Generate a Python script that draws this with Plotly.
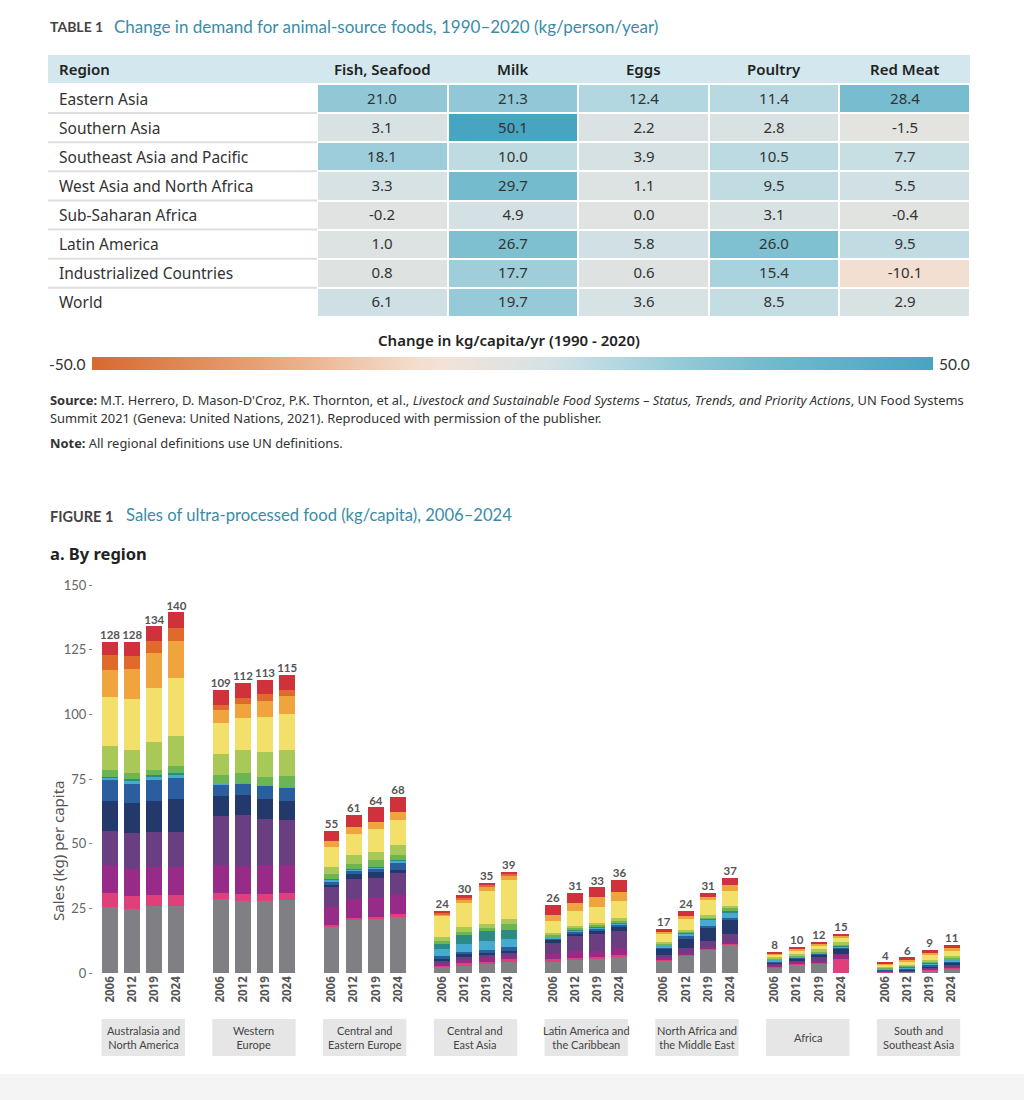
import plotly.graph_objects as go

W, H = 1024, 1100
def px(x): return x / W
def py(y): return 1 - y / H

# ---------------- TABLE DATA ----------------
table_regions = ["Eastern Asia", "Southern Asia", "Southeast Asia and Pacific",
                 "West Asia and North Africa", "Sub-Saharan Africa", "Latin America",
                 "Industrialized Countries", "World"]
table_columns = ["Fish, Seafood", "Milk", "Eggs", "Poultry", "Red Meat"]
fish = [21.0, 3.1, 18.1, 3.3, -0.2, 1.0, 0.8, 6.1]
milk = [21.3, 50.1, 10.0, 29.7, 4.9, 26.7, 17.7, 19.7]
eggs = [12.4, 2.2, 3.9, 1.1, 0.0, 5.8, 0.6, 3.6]
poultry = [11.4, 2.8, 10.5, 9.5, 3.1, 26.0, 15.4, 8.5]
red_meat = [28.4, -1.5, 7.7, 5.5, -0.4, 9.5, -10.1, 2.9]

# ---------------- FIGURE DATA ----------------
fig_regions = ["Australasia and<br>North America", "Western<br>Europe", "Central and<br>Eastern Europe",
               "Central and<br>East Asia", "Latin America and<br>the Caribbean",
               "North Africa and<br>the Middle East", "Africa", "South and<br>Southeast Asia"]
years = ["2006", "2012", "2019", "2024"]
totals = [128, 128, 134, 140, 109, 112, 113, 115, 55, 61, 64, 68, 24, 30, 35, 39,
          26, 31, 33, 36, 17, 24, 31, 37, 8, 10, 12, 15, 4, 6, 9, 11]

seg_gray = [25.5, 24.7, 25.8, 25.9, 28.6, 28.0, 27.9, 28.4, 17.8, 20.5, 20.8, 21.5, 2.4, 3.0, 3.6, 4.4,
            4.4, 5.2, 5.5, 6.0, 4.7, 6.7, 9.2, 11.0, 2.2, 3.4, 3.7, 0.0, 0.3, 0.4, 1.1, 1.7]
seg_pink = [5.3, 4.9, 4.5, 4.2, 2.3, 2.6, 2.6, 2.6, 0.9, 0.9, 0.9, 1.3, 0.4, 0.7, 0.6, 1.0,
            0.9, 0.6, 0.7, 0.8, 0.4, 0.4, 0.4, 0.5, 0.3, 0.4, 0.4, 5.4, 0.1, 0.1, 0.3, 0.4]
seg_magenta = [11.0, 10.7, 10.7, 10.9, 10.7, 10.9, 11.1, 10.7, 6.7, 7.2, 7.5, 7.7, 1.3, 1.6, 1.6, 1.3,
               2.2, 2.6, 2.4, 2.8, 0.6, 0.5, 0.5, 0.5, 0.5, 0.5, 0.6, 1.0, 0.1, 0.3, 0.4, 0.6]
seg_purple = [13.2, 13.7, 13.4, 13.5, 19.2, 19.5, 17.9, 17.3, 7.9, 7.9, 7.5, 8.1, 0.6, 0.7, 1.0, 1.2,
              4.4, 5.8, 6.3, 6.5, 1.3, 2.0, 2.4, 3.1, 0.5, 0.6, 1.3, 0.9, 0.3, 0.3, 0.4, 0.6]
seg_navy = [11.6, 11.6, 12.2, 12.8, 7.5, 7.7, 7.7, 7.5, 0.9, 1.9, 2.2, 1.3, 0.9, 1.3, 0.9, 0.8,
            0.7, 0.9, 1.3, 1.5, 2.5, 3.7, 4.8, 5.2, 0.7, 0.6, 1.0, 1.9, 0.3, 0.4, 0.5, 0.6]
seg_blue = [8.0, 7.6, 8.1, 8.2, 4.5, 4.5, 5.1, 5.4, 1.3, 1.2, 1.5, 2.8, 1.0, 0.8, 1.3, 1.3,
            0.9, 1.0, 0.9, 1.0, 0.4, 0.9, 1.0, 1.0, 0.4, 0.4, 0.5, 0.8, 0.3, 0.4, 0.5, 0.6]
seg_cyan = [1.0, 1.4, 1.4, 1.3, 0.2, 0.2, 0.2, 0.2, 0.5, 0.3, 0.3, 0.6, 2.6, 3.3, 3.2, 3.3,
            0.5, 0.3, 0.4, 0.5, 0.6, 1.0, 2.2, 2.2, 0.5, 0.4, 0.4, 0.4, 0.3, 0.3, 0.6, 0.7]
seg_teal = [0.3, 0.3, 0.3, 0.5, 0.0, 0.0, 0.0, 0.0, 0.2, 0.2, 0.2, 0.2, 2.2, 3.3, 3.9, 3.5,
            0.2, 0.3, 0.3, 0.3, 0.3, 0.3, 0.4, 0.4, 0.2, 0.2, 0.2, 0.2, 0.1, 0.2, 0.2, 0.2]
seg_green = [2.6, 2.3, 2.2, 2.7, 3.6, 3.8, 3.3, 3.9, 2.0, 2.2, 2.6, 2.2, 1.0, 1.3, 1.3, 2.0,
             0.7, 0.6, 0.7, 0.8, 0.6, 0.4, 0.7, 1.3, 0.3, 0.4, 0.4, 0.6, 0.3, 0.4, 0.5, 0.6]
seg_lightgreen = [9.1, 9.2, 10.7, 11.8, 8.2, 9.0, 9.7, 10.3, 2.9, 3.2, 3.2, 3.6, 1.6, 1.6, 1.6, 2.0,
                  0.7, 1.0, 0.9, 1.0, 0.6, 0.7, 0.7, 0.6, 0.4, 0.5, 0.6, 0.6, 0.3, 0.4, 0.5, 0.6]
seg_yellow = [19.1, 19.6, 20.9, 22.2, 12.0, 12.4, 13.4, 13.7, 7.6, 8.3, 9.1, 9.9, 7.9, 9.5, 12.7, 15.0,
              4.4, 5.7, 6.3, 6.5, 2.9, 4.3, 5.9, 5.8, 1.1, 1.4, 1.5, 1.8, 0.8, 1.3, 2.0, 2.0]
seg_lightorange = [10.6, 11.6, 13.5, 14.4, 4.8, 5.5, 6.2, 7.0, 2.4, 2.6, 2.6, 3.0, 0.9, 1.3, 1.7, 1.9,
                   2.6, 3.0, 3.5, 3.8, 0.9, 1.3, 1.3, 2.3, 0.5, 0.6, 0.6, 0.8, 0.4, 0.6, 0.7, 0.9]
seg_darkorange = [5.6, 5.1, 4.5, 4.8, 2.1, 2.3, 2.6, 2.3, 0.0, 0.0, 0.0, 0.0, 0.6, 0.7, 0.9, 0.7,
                  0.0, 0.0, 0.0, 0.0, 0.0, 0.0, 0.0, 0.0, 0.0, 0.0, 0.0, 0.0, 0.0, 0.0, 0.0, 0.0]
seg_red = [5.2, 5.4, 5.8, 6.2, 5.7, 5.8, 5.5, 5.8, 3.9, 4.7, 5.6, 5.8, 0.6, 0.9, 0.6, 0.6,
           3.6, 3.9, 3.9, 4.5, 1.3, 1.7, 1.6, 2.9, 0.4, 0.6, 0.8, 0.6, 0.4, 0.9, 1.3, 1.5]

segments = [
    ("Group 1", seg_gray, "#808084"),
    ("Group 2", seg_pink, "#df407b"),
    ("Group 3", seg_magenta, "#992b88"),
    ("Group 4", seg_purple, "#693f81"),
    ("Group 5", seg_navy, "#24396b"),
    ("Group 6", seg_blue, "#2a5e9e"),
    ("Group 7", seg_cyan, "#45acd0"),
    ("Group 8", seg_teal, "#2c8b84"),
    ("Group 9", seg_green, "#6bb552"),
    ("Group 10", seg_lightgreen, "#a8c858"),
    ("Group 11", seg_yellow, "#f3e06b"),
    ("Group 12", seg_lightorange, "#f0a43d"),
    ("Group 13", seg_darkorange, "#df6a2c"),
    ("Group 14", seg_red, "#cf323a"),
]

SANS = "Noto Sans, Open Sans, sans-serif"
NARROW = "Lato, Roboto, sans-serif"
TEAL = "#3a8ca6"

fig = go.Figure()

# ---------------- TABLE (heatmap) ----------------
z = [[fish[i], milk[i], eggs[i], poultry[i], red_meat[i]] for i in range(len(table_regions))]
txt = [["%.1f" % v for v in row] for row in z]
cscale = [[0.0, "#d8692f"], [0.2, "#e7a176"], [0.38, "#f4dccb"], [0.42, "#f2e2d7"],
          [0.5, "#e0e3e1"], [0.55, "#d3e1e5"], [0.62, "#b5d8e1"], [0.72, "#8ec6d5"],
          [0.8, "#72bbcd"], [1.0, "#47a5c1"]]
fig.add_trace(go.Heatmap(
    z=z, x=list(range(5)), y=list(range(len(table_regions))), text=txt,
    texttemplate="%{text}", textfont=dict(family=SANS, size=15, color="#333333"),
    colorscale=cscale, zmin=-50, zmax=50, xgap=2, ygap=2, hoverinfo="skip",
    colorbar=dict(orientation="h", x=px(92), xanchor="left", y=py(357), yanchor="top",
                  len=(933 - 92) / W, lenmode="fraction", thickness=13, thicknessmode="pixels",
                  outlinewidth=0, showticklabels=False, ticks="", xpad=0, ypad=0),
    xaxis="x", yaxis="y"))

# ---------------- BARS ----------------
positions = [g * 5 + i for g in range(len(fig_regions)) for i in range(len(years))]
tick_text = [years[i] for g in range(len(fig_regions)) for i in range(len(years))]
for name, vals, col in segments:
    fig.add_trace(go.Bar(x=positions, y=vals, name=name, marker=dict(color=col, line=dict(width=0)),
                         width=0.72, xaxis="x2", yaxis="y2", hoverinfo="y+name", showlegend=False))
stack_tops = [sum(s[1][k] for s in segments) for k in range(len(positions))]
fig.add_trace(go.Scatter(x=positions, y=stack_tops, mode="text", text=[str(t) for t in totals],
                         textposition="top center", cliponaxis=False, showlegend=False,
                         textfont=dict(family=NARROW, size=11.5, color="#555555", weight="bold"),
                         xaxis="x2", yaxis="y2", hoverinfo="skip"))

pitch = 22.15
x0px = 110
L, R = 93, 975
fig.update_layout(
    width=W, height=H, margin=dict(l=0, r=0, t=0, b=0, pad=0, autoexpand=False),
    paper_bgcolor="white", plot_bgcolor="rgba(0,0,0,0)", barmode="stack",
    xaxis=dict(domain=[px(317), px(970)], range=[-0.5, 4.5], visible=False, fixedrange=True),
    yaxis=dict(domain=[py(317), py(84)], range=[7.5, -0.5], visible=False, fixedrange=True),
    xaxis2=dict(domain=[px(L), px(R)], range=[(L - x0px) / pitch, (R - x0px) / pitch],
                tickmode="array", tickvals=positions, ticktext=tick_text, tickangle=-90,
                tickfont=dict(family=SANS, size=11.5, color="#555555", weight="bold"),
                ticks="", showgrid=False, zeroline=False, showline=False, anchor="y2"),
    yaxis2=dict(domain=[py(973), py(585)], range=[0, 150], tickvals=[0, 25, 50, 75, 100, 125, 150],
                tickfont=dict(family=NARROW, size=13, color="#666666"), ticks="outside",
                ticklen=3, tickcolor="#888888", showgrid=False, zeroline=False, showline=False,
                anchor="x2"),
)

shapes = []
annotations = []
shapes.append(dict(type="rect", xref="paper", yref="paper", x0=0, x1=1, y0=0, y1=py(1074),
                   fillcolor="#f4f4f4", line=dict(width=0), layer="below"))
shapes.append(dict(type="rect", xref="paper", yref="paper", x0=px(48), x1=px(970), y0=py(83), y1=py(55),
                   fillcolor="#d2e8ee", line=dict(width=0), layer="below"))
for i in range(len(table_regions) - 1):
    shapes.append(dict(type="line", xref="paper", yref="y", x0=px(48), x1=px(317), y0=i + 0.5, y1=i + 0.5,
                       line=dict(color="#dedede", width=2)))
for g in range(len(fig_regions)):
    shapes.append(dict(type="rect", xref="x2", yref="paper", x0=g * 5 - 0.38, x1=g * 5 + 3.38,
                       y0=py(1056), y1=py(1019), fillcolor="#e6e6e6", line=dict(width=0), layer="below"))
    annotations.append(dict(xref="x2", yref="paper", x=g * 5 + 1.5, y=py(1037.5), text=fig_regions[g],
                            showarrow=False, font=dict(family=NARROW, size=11, color="#444444"),
                            align="center", xanchor="center", yanchor="middle"))

annotations.append(dict(xref="paper", yref="paper", x=px(48), y=py(27), text="<b>TABLE 1</b>", showarrow=False,
                        xanchor="left", yanchor="middle", font=dict(family=NARROW, size=14, color="#444444")))
annotations.append(dict(xref="paper", yref="paper", x=px(112), y=py(26),
                        text="Change in demand for animal-source foods, 1990–2020 (kg/person/year)",
                        showarrow=False, xanchor="left", yanchor="middle",
                        font=dict(family=NARROW, size=17, color=TEAL)))
annotations.append(dict(xref="paper", yref="paper", x=px(57), y=py(69), text="Region", showarrow=False,
                        xanchor="left", yanchor="middle", font=dict(family=SANS, size=15, color="#222222", weight=600)))
for j, c in enumerate(table_columns):
    annotations.append(dict(xref="x", yref="paper", x=j, y=py(69), text=c, showarrow=False,
                            xanchor="center", yanchor="middle",
                            font=dict(family=SANS, size=15, color="#222222", weight=600)))
for i, r in enumerate(table_regions):
    annotations.append(dict(xref="paper", yref="y", x=px(57), y=i, text=r, showarrow=False,
                            xanchor="left", yanchor="middle", font=dict(family=SANS, size=15.5, color="#333333")))
annotations.append(dict(xref="paper", yref="paper", x=px(509), y=py(340),
                        text="Change in kg/capita/yr (1990 - 2020)", showarrow=False, xanchor="center",
                        yanchor="middle", font=dict(family=SANS, size=15, color="#222222", weight=600)))
annotations.append(dict(xref="paper", yref="paper", x=px(47), y=py(364), text="-50.0", showarrow=False,
                        xanchor="left", yanchor="middle", font=dict(family=NARROW, size=15.5, color="#333333")))
annotations.append(dict(xref="paper", yref="paper", x=px(937), y=py(364), text="50.0", showarrow=False,
                        xanchor="left", yanchor="middle", font=dict(family=NARROW, size=15.5, color="#333333")))
src1 = ("<b>Source:</b> M.T. Herrero, D. Mason-D'Croz, P.K. Thornton, et al., <i>Livestock and Sustainable Food "
        "Systems – Status, Trends, and Priority Actions</i>, UN Food Systems")
src2 = "Summit 2021 (Geneva: United Nations, 2021). Reproduced with permission of the publisher."
for y, t in [(400, src1), (418, src2), (443, "<b>Note:</b> All regional definitions use UN definitions.")]:
    annotations.append(dict(xref="paper", yref="paper", x=px(48), y=py(y), text=t, showarrow=False,
                            xanchor="left", yanchor="middle", font=dict(family=SANS, size=12.9, color="#333333")))
annotations.append(dict(xref="paper", yref="paper", x=px(48), y=py(516), text="<b>FIGURE 1</b>", showarrow=False,
                        xanchor="left", yanchor="middle", font=dict(family=NARROW, size=14.5, color="#444444")))
annotations.append(dict(xref="paper", yref="paper", x=px(124), y=py(515),
                        text="Sales of ultra-processed food (kg/capita), 2006–2024", showarrow=False,
                        xanchor="left", yanchor="middle", font=dict(family=NARROW, size=16.6, color=TEAL)))
annotations.append(dict(xref="paper", yref="paper", x=px(48), y=py(553), text="<b>a. By region</b>",
                        showarrow=False, xanchor="left", yanchor="middle",
                        font=dict(family=SANS, size=16.5, color="#222222")))
annotations.append(dict(xref="paper", yref="paper", x=px(58), y=py(851), text="Sales (kg) per capita",
                        showarrow=False, textangle=-90, xanchor="center", yanchor="middle",
                        font=dict(family=SANS, size=15, color="#555555")))

fig.update_layout(shapes=shapes, annotations=annotations)
fig.write_html("out.html", config={"displayModeBar": False},
               post_script="document.body.style.margin='0px';")
